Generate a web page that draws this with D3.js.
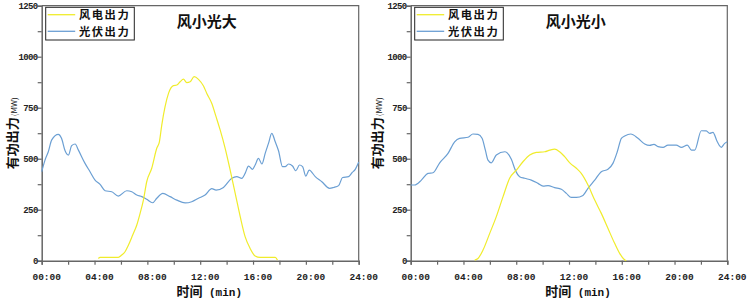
<!DOCTYPE html>
<html>
<head>
<meta charset="utf-8">
<script src="https://cdn.jsdelivr.net/npm/d3@7"></script>
<style>
  body { margin: 0; background: #fff; }
  svg { display: block; }
</style>
</head>
<body>
<div id="chart"></div>
<script>
// 风小光大 (left panel)
const hoursPvA = [0, 0.25, 0.5, 0.76, 1.26, 1.5, 1.77, 2.02, 2.27, 2.53, 2.78, 3.28, 3.66, 4.04, 4.42, 4.8, 5.3, 5.8, 6.44, 6.82, 7.2, 7.58, 7.95, 8.4, 8.71, 9.17, 9.72, 10.23, 10.86, 11.36, 11.87, 12.37, 12.88, 13.2, 13.76, 14.39, 14.77, 15.15, 15.4, 15.66, 15.96, 16.16, 16.41, 16.67, 16.92, 17.17, 17.42, 17.68, 17.93, 18.23, 18.43, 18.69, 18.99, 19.24, 19.52, 19.75, 20, 20.25, 20.71, 21.21, 21.79, 22.1, 22.48, 22.78, 23.23, 23.49, 23.74, 24];
const pvA = [436, 493, 534, 592, 619, 600, 539, 518, 564, 572, 542, 477, 436, 395, 374, 343, 338, 317, 343, 338, 322, 314, 301, 284, 306, 330, 314, 297, 283, 289, 306, 322, 353, 346, 359, 404, 412, 404, 428, 464, 448, 469, 502, 474, 526, 575, 624, 583, 539, 461, 461, 474, 464, 441, 469, 461, 415, 444, 412, 387, 355, 359, 368, 408, 412, 431, 448, 484];
const hoursWindA = [4.29, 4.42, 5.8, 6.06, 6.31, 6.57, 6.89, 7.2, 7.45, 7.7, 7.95, 8.33, 8.71, 8.91, 9.09, 9.34, 9.6, 9.97, 10.23, 10.48, 10.73, 10.98, 11.24, 11.54, 11.87, 12.25, 12.5, 12.88, 13.2, 13.51, 13.89, 14.27, 14.65, 15.03, 15.4, 15.78, 16.16, 16.54, 17.68, 17.85];
const windA = [11, 16, 16, 28, 44, 77, 126, 175, 232, 297, 387, 453, 551, 583, 665, 755, 820, 858, 861, 877, 890, 873, 877, 902, 889, 856, 820, 771, 706, 641, 551, 444, 330, 216, 118, 60, 23, 16, 16, 3];

// 风小光小 (right panel)
const hoursPvB = [0, 0.3, 0.81, 1.31, 1.69, 2.2, 2.83, 3.33, 3.71, 4.35, 4.72, 5.1, 5.41, 5.66, 5.86, 6.11, 6.49, 7.13, 7.63, 7.93, 8.26, 8.64, 9.14, 9.65, 10.03, 10.41, 10.91, 11.42, 11.8, 12.18, 12.56, 13.06, 13.44, 13.95, 14.45, 14.95, 15.33, 15.66, 15.97, 16.22, 16.68, 17.23, 17.74, 18.11, 18.44, 18.75, 19.13, 19.5, 20.13, 20.52, 20.97, 21.28, 21.53, 22.03, 22.41, 22.66, 22.91, 23.24, 23.55, 23.8, 24];
const pvB = [371, 371, 395, 428, 431, 480, 526, 583, 600, 605, 621, 619, 600, 542, 493, 480, 518, 534, 497, 444, 412, 404, 395, 379, 366, 368, 358, 350, 330, 310, 310, 320, 355, 395, 436, 448, 477, 534, 600, 611, 621, 600, 572, 565, 570, 559, 556, 567, 567, 556, 567, 542, 542, 637, 636, 624, 629, 583, 556, 575, 583];
const hoursWindB = [4.85, 5.1, 5.48, 5.99, 6.49, 7, 7.5, 8.01, 8.51, 9.02, 9.52, 10.16, 10.54, 10.91, 11.29, 11.67, 12.1, 12.56, 12.93, 13.44, 13.95, 14.45, 14.95, 15.46, 15.84, 16.17, 16.34];
const windB = [3, 11, 52, 134, 216, 314, 404, 444, 485, 518, 531, 534, 542, 547, 534, 510, 477, 453, 428, 371, 297, 232, 159, 85, 36, 7, 0];

const titles = ["风小光大", "风小光小"];
const seriesNames = ["风电出力", "光伏出力"];
const xTickLabels = ["00:00", "04:00", "08:00", "12:00", "16:00", "20:00", "24:00"];
const yTicks = [0, 250, 500, 750, 1000, 1250];

const windColor = "#f0ec2c";
const pvColor = "#6b9fd3";
const axisColor = "#666";

const W = 748, H = 301;
const svg = d3.select("#chart").append("svg")
  .attr("width", W).attr("height", H)
  .attr("font-family", "'Noto Sans CJK SC', sans-serif");

const panels = [
  { left: 41.7, right: 358.7, ylab: 12, title: titles[0],
    wind: hoursWindA.map((h, i) => [h, windA[i]]), pv: hoursPvA.map((h, i) => [h, pvA[i]]) },
  { left: 410.7, right: 727.3, ylab: 377, title: titles[1],
    wind: hoursWindB.map((h, i) => [h, windB[i]]), pv: hoursPvB.map((h, i) => [h, pvB[i]]) }
];
const plotTop = 5.7, plotBottom = 260.7;

panels.forEach(p => {
  const x = d3.scaleLinear().domain([0, 24]).range([p.left, p.right]);
  const y = d3.scaleLinear().domain([0, 1250]).range([plotBottom, plotTop]);
  const g = svg.append("g");

  // frame (top + right)
  g.append("path")
    .attr("d", `M${p.left},${plotTop}H${p.right}V${plotBottom}`)
    .attr("fill", "none").attr("stroke", axisColor).attr("stroke-width", 1.2);

  // x axis
  const xa = g.append("g").attr("transform", `translate(0,${plotBottom})`)
    .call(d3.axisBottom(x).tickValues(d3.range(0, 25, 2)).tickSize(4).tickFormat(""));
  xa.select(".domain").attr("stroke", axisColor).attr("stroke-width", 1.5);
  xa.selectAll(".tick line").attr("stroke", axisColor).attr("stroke-width", 1.2);
  g.append("g").selectAll("text")
    .data(xTickLabels)
    .join("text")
    .attr("x", (d, i) => x(i * 4) + 5)
    .attr("y", 280)
    .attr("text-anchor", "middle")
    .attr("font-family", "'Liberation Mono', monospace")
    .attr("font-weight", "bold")
    .attr("font-size", 9.5)
    .attr("fill", "#222")
    .text(d => d);

  // y axis
  const ya = g.append("g").attr("transform", `translate(${p.left},0)`)
    .call(d3.axisLeft(y).tickValues(d3.range(0, 1251, 125)).tickSize(4).tickFormat(""));
  ya.select(".domain").attr("stroke", axisColor).attr("stroke-width", 1.5);
  ya.selectAll(".tick line").attr("stroke", axisColor).attr("stroke-width", 1.2);
  g.append("g").selectAll("text")
    .data(yTicks)
    .join("text")
    .attr("x", p.left - 4)
    .attr("y", d => y(d) + 3.5)
    .attr("text-anchor", "end")
    .attr("font-family", "'Liberation Mono', monospace")
    .attr("font-weight", "bold")
    .attr("font-size", 9)
    .attr("letter-spacing", -0.6)
    .attr("fill", "#222")
    .text(d => d);

  // axis titles
  const xt = g.append("text")
    .attr("x", (p.left + p.right) / 2 + 9)
    .attr("y", 296)
    .attr("text-anchor", "middle")
    .attr("fill", "#111");
  xt.append("tspan").attr("font-weight", "bold").attr("font-size", 13).text("时间");
  xt.append("tspan").attr("font-family", "'Liberation Mono', monospace").attr("font-weight", "bold")
    .attr("font-size", 11).text(" (min)");

  const yt = g.append("text")
    .attr("transform", `translate(${p.ylab + 5},${(plotTop + plotBottom) / 2}) rotate(-90)`)
    .attr("text-anchor", "middle")
    .attr("fill", "#111");
  yt.append("tspan").attr("font-weight", "bold").attr("font-size", 13).text("有功出力");
  yt.append("tspan").attr("font-size", 8).attr("dx", 1).text("(MW)");

  // lines
  const line = d3.line().x(d => x(d[0])).y(d => y(d[1])).curve(d3.curveMonotoneX);
  g.append("path").datum(p.pv).attr("d", line)
    .attr("fill", "none").attr("stroke", pvColor).attr("stroke-width", 1.2);
  g.append("path").datum(p.wind).attr("d", line)
    .attr("fill", "none").attr("stroke", windColor).attr("stroke-width", 1.2);

  // title
  g.append("text")
    .attr("x", p.left + 165)
    .attr("y", 27)
    .attr("text-anchor", "middle")
    .attr("font-weight", "bold")
    .attr("font-size", 15)
    .attr("fill", "#111")
    .text(p.title);

  // legend
  const lg = g.append("g").attr("transform", `translate(${p.left + 4},7.3)`);
  lg.append("rect").attr("width", 88.6).attr("height", 32.7)
    .attr("fill", "#fff").attr("stroke", "#222").attr("stroke-width", 1);
  [windColor, pvColor].forEach((c, i) => {
    lg.append("line").attr("x1", 2).attr("x2", 29.5)
      .attr("y1", 7.4 + i * 16.6).attr("y2", 7.4 + i * 16.6)
      .attr("stroke", c).attr("stroke-width", 1.3);
    lg.append("text").attr("x", 33.3).attr("y", 12 + i * 16.6)
      .attr("font-weight", "bold").attr("font-size", 11.3)
      .attr("letter-spacing", 1.5).attr("fill", "#111")
      .text(seriesNames[i]);
  });
});
</script>
</body>
</html>
